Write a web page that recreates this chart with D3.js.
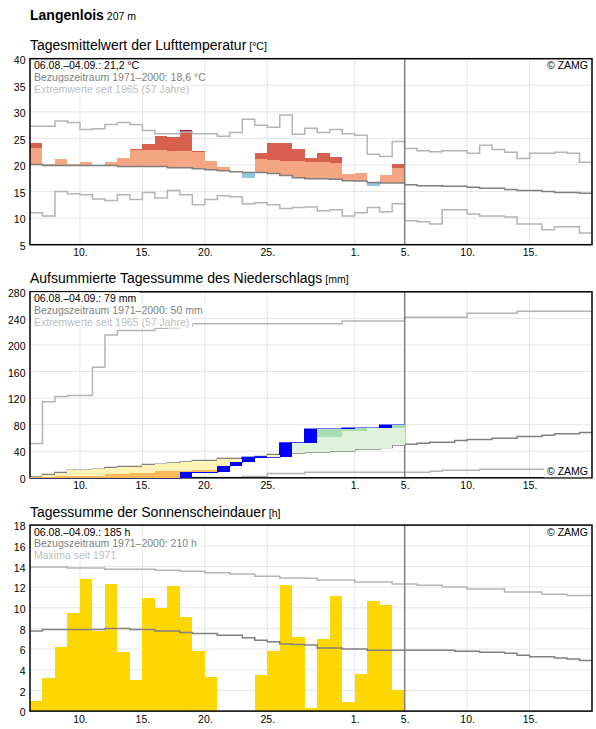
<!DOCTYPE html>
<html>
<head>
<meta charset="utf-8">
<script src="https://cdn.jsdelivr.net/npm/d3@7"></script>
<style>
  body { margin: 0; background: #fff; }
  svg { font-family: "Liberation Sans", Arial, sans-serif; }
</style>
</head>
<body>
<div id="chart"></div>
<script>
// ---- data (06.08. - 19.09.2022, one value per day) ----
const xTickDates = ['2022-08-10', '2022-08-15', '2022-08-20', '2022-08-25', '2022-09-01', '2022-09-05', '2022-09-10', '2022-09-15'];

// temperature [°C]
const tempTicks = [5, 10, 15, 20, 25, 30, 35, 40];
const tempMean = [24.2, 20.1, 21.2, 20.1, 20.65, 20.0, 20.5, 21.4, 23.1, 23.9, 25.4, 25.2, 26.5, 22.6, 20.8,
  19.6, 18.6, 17.5, 22.2, 24.1, 24.1, 23.1, 21.3, 22.2, 21.5, 18.3, 18.4, 16.05, 18.05, 20.2];
const tempThr = [23.2, 23.1, 23.0, 23.0, 22.9, 22.9, 22.8, 22.8, 22.8, 22.8, 22.8, 22.6, 22.6, 22.4, 22.2,
  22.0, 21.8, 21.5, 21.2, 21.0, 20.8, 20.7, 20.6, 20.5, 20.3, 20.1, 19.9, 19.7, 19.5, 19.4];
const tempNorm = [20.1, 19.9, 19.9, 19.9, 19.9, 19.9, 19.9, 19.7, 19.7, 19.7, 19.7, 19.5, 19.5, 19.3, 19.1,
  18.9, 18.75, 18.6, 18.6, 18.4, 18.0, 17.6, 17.4, 17.4, 17.3, 17.05, 17.0, 16.7, 16.6, 16.6,
  16.3, 16.1, 16.1, 16.0, 16.0, 15.8, 15.6, 15.6, 15.4, 15.2, 15.2, 15.0, 14.8, 14.8, 14.7];
const tempMax = [27.3, 27.3, 28.3, 28.0, 26.7, 26.8, 27.6, 28.0, 27.6, 26.5, 25.9, 25.9, 26.2, 25.9, 25.9,
  25.4, 26.1, 28.6, 27.5, 27.1, 29.4, 25.8, 26.9, 26.1, 26.7, 25.9, 25.6, 22.0, 21.6, 24.4,
  23.1, 22.7, 22.5, 22.7, 22.7, 22.2, 23.7, 22.9, 22.4, 21.2, 22.2, 22.2, 22.4, 22.2, 20.5];
const tempMin = [11.0, 10.4, 15.0, 14.6, 14.4, 13.6, 13.3, 14.4, 13.5, 14.8, 13.8, 15.2, 14.4, 12.5, 13.5,
  14.2, 14.0, 12.7, 12.9, 12.5, 11.8, 12.0, 12.1, 11.4, 11.6, 10.4, 11.0, 12.0, 11.2, 12.7,
  9.5, 9.3, 8.9, 11.6, 11.6, 10.8, 10.4, 10.4, 10.2, 8.9, 8.9, 7.8, 8.4, 8.4, 7.2];
const tempLegend = ['06.08.–04.09.: 21,2 °C', 'Bezugszeitraum 1971–2000: 18,6 °C', 'Extremwerte seit 1965 (57 Jahre)'];

// precipitation [mm]
const rainTicks = [0, 40, 80, 120, 160, 200, 240, 280];
const rainDaily = [0, 0, 0, 0, 0, 0, 0, 0, 0, 0, 0, 0, 8.3, 0, 0,
  9.1, 6.5, 6.6, 0.9, 0, 21.1, 0, 20.7, 0, 0, 1.4, 0, 0, 4.6, 0];
const rainDry = [0.5, 1.0, 2.3, 2.3, 2.3, 2.3, 5.3, 5.3, 7.8, 7.8, 10.3, 10.3, 10.3, 12.3, 12.3,
  13.5, 14.0, 14.5, 15.0, 16.5, 17.0, 17.5, 18.0, 18.0, 19.0, 19.0, 20.5, 20.5, 21.5, 23.5];
const rainWet = [5, 10, 14, 19, 19, 21, 25, 27, 27, 31, 32, 35, 37, 40, 40,
  45, 45, 47, 50, 54, 58, 58, 60, 61.6, 61.6, 70.2, 70.2, 76, 76, 75.2];
const rainNorm = [1.2, 4.8, 7.8, 11.3, 11.3, 12.8, 15.4, 16.9, 16.9, 19.9, 20.4, 22.4, 23.9, 25.9, 25.9,
  29.0, 29.0, 30.5, 32.0, 35.0, 37.0, 37.5, 39.0, 39.0, 40.5, 40.5, 43.5, 43.5, 45.6, 49.5,
  50.6, 52.1, 53.6, 53.6, 56.1, 57.6, 57.6, 59.6, 59.6, 62.1, 62.1, 64.2, 66.2, 66.2, 68.2];
const rainMax = [51.6, 114.5, 122.5, 124, 124, 166.3, 215, 221.6, 221.6, 221.6, 225, 226, 228, 232, 232,
  232, 232, 232, 232, 232, 232, 232, 232, 232, 232, 236, 236, 236, 236, 236,
  241.8, 241.8, 241.8, 241.8, 241.8, 247.8, 247.8, 247.8, 247.8, 250.8, 250.8, 250.8, 250.8, 250.8, 250.8];
const rainMin = [0, 0, 0, 0, 0, 0, 0, 0, 0, 0, 0.4, 0.4, 0.4, 0.4, 0.4,
  0.4, 0.4, 2.0, 2.0, 6.3, 6.3, 6.3, 8.3, 8.3, 8.3, 8.3, 8.3, 8.3, 8.3, 8.3,
  8.3, 8.3, 9.8, 11.3, 11.3, 11.3, 12.8, 12.8, 12.8, 12.8, 12.8, 12.8, 12.8, 12.8, 12.8];
const rainLegend = ['06.08.–04.09.: 79 mm', 'Bezugszeitraum 1971–2000: 50 mm', 'Extremwerte seit 1965 (57 Jahre)'];

// sunshine [h]
const sunTicks = [0, 2, 4, 6, 8, 10, 12, 14, 16, 18];
const sunHours = [1.0, 3.2, 6.2, 9.5, 12.8, 7.75, 12.3, 5.7, 3.0, 10.9, 10.0, 12.1, 9.1, 5.8, 3.3,
  0, 0, 0, 3.5, 5.8, 12.2, 7.2, 0.3, 7.0, 11.1, 0.9, 3.55, 10.7, 10.3, 2.0];
const sunNorm = [7.75, 7.9, 7.9, 7.9, 7.9, 7.9, 8.0, 8.0, 7.9, 7.9, 7.75, 7.75, 7.6, 7.5, 7.5,
  7.35, 7.35, 7.1, 6.85, 6.7, 6.5, 6.45, 6.4, 6.1, 6.1, 6.0, 6.0, 5.9, 5.9, 5.9,
  5.9, 5.9, 5.9, 5.9, 5.8, 5.8, 5.7, 5.7, 5.6, 5.4, 5.25, 5.25, 5.15, 5.05, 4.9];
const sunMax = [13.95, 13.95, 13.95, 13.86, 13.86, 13.86, 13.73, 13.73, 13.73, 13.73, 13.63, 13.63, 13.53, 13.53, 13.4,
  13.4, 13.27, 13.27, 13.04, 13.04, 12.88, 12.88, 12.85, 12.69, 12.69, 12.69, 12.49, 12.49, 12.49, 12.3,
  12.3, 12.17, 12.17, 12.0, 12.0, 11.81, 11.81, 11.81, 11.52, 11.52, 11.52, 11.32, 11.32, 11.19, 11.19];
const sunLegend = ['06.08.–04.09.: 185 h', 'Bezugszeitraum 1971–2000: 210 h', 'Maxima seit 1971'];

// ---- layout ----
const width = 596, height = 729;
const plotLeft = 30, plotRight = 592, plotH = 186;
const legendColors = ['#000', '#808080', '#bdbdbd'];

const start = new Date(Date.UTC(2022, 7, 6));
const end = new Date(Date.UTC(2022, 8, 20));
const today = new Date(Date.UTC(2022, 8, 5));
const day = i => d3.utcDay.offset(start, i);
const x = d3.scaleUtc().domain([start, end]).range([plotLeft, plotRight]);

const svg = d3.select('#chart').append('svg')
  .attr('width', width)
  .attr('height', height);

svg.append('text')
  .attr('x', 30).attr('y', 19.5)
  .style('font-size', '14px').style('font-weight', 'bold')
  .text('Langenlois')
  .append('tspan')
  .style('font-size', '10.5px').style('font-weight', 'normal')
  .text(' 207 m');

function makePanel(top, domain, ticks, title, unit) {
  const y = d3.scaleLinear().domain(domain).range([top + plotH, top]);
  const g = svg.append('g');

  g.append('text')
    .attr('x', 30).attr('y', top - 8.5)
    .style('font-size', '14px')
    .text(title)
    .append('tspan')
    .style('font-size', '10.5px')
    .text(' ' + unit);

  // grid
  const grid = g.append('g').attr('stroke', '#e6e6e6').attr('stroke-width', 1);
  grid.selectAll('.hg').data(ticks).join('line')
    .attr('x1', plotLeft).attr('x2', plotRight)
    .attr('y1', d => y(d)).attr('y2', d => y(d));
  grid.selectAll('.vg').data(xTickDates).join('line')
    .attr('x1', d => x(new Date(d))).attr('x2', d => x(new Date(d)))
    .attr('y1', top).attr('y2', top + plotH);

  // axes (labels only)
  const yAxis = g.append('g')
    .attr('transform', `translate(${plotLeft},0)`)
    .call(d3.axisLeft(y).tickValues(ticks).tickSize(0).tickPadding(4.5));
  yAxis.select('.domain').remove();
  yAxis.selectAll('text').attr('dy', '0.45em').style('font-size', '10.5px').attr('fill', '#000');

  const xAxis = g.append('g')
    .attr('transform', `translate(0,${top + plotH})`)
    .call(d3.axisBottom(x).tickValues(xTickDates.map(d => new Date(d)))
      .tickFormat(d => d.getUTCDate() + '.').tickSize(0).tickPadding(4));
  xAxis.select('.domain').remove();
  xAxis.selectAll('text').style('font-size', '10.5px').attr('fill', '#000');

  const marks = g.append('g');
  const lines = g.append('g');
  const labels = g.append('g');
  const frame = g.append('g');

  frame.append('line')
    .attr('x1', x(today)).attr('x2', x(today))
    .attr('y1', top).attr('y2', top + plotH)
    .attr('stroke', '#808080').attr('stroke-width', 1.5);
  frame.append('rect')
    .attr('x', plotLeft).attr('y', top)
    .attr('width', plotRight - plotLeft).attr('height', plotH)
    .attr('fill', 'none').attr('stroke', '#000').attr('stroke-width', 1.5);

  return { y, marks, lines, labels, top };
}

function stepLine(p, values, color, w) {
  const pts = values.map((v, i) => [day(i), v]);
  pts.push([day(values.length), values[values.length - 1]]);
  p.lines.append('path').datum(pts)
    .attr('d', d3.line().x(d => x(d[0])).y(d => p.y(d[1])).curve(d3.curveStepAfter))
    .attr('fill', 'none')
    .attr('stroke', color)
    .attr('stroke-width', w);
}

function drawSegments(p, segs) {
  p.marks.append('g').selectAll('rect').data(segs).join('rect')
    .attr('x', d => x(day(d.i)))
    .attr('width', d => x(day(d.i + 1)) - x(day(d.i)))
    .attr('y', d => p.y(d.hi))
    .attr('height', d => Math.max(0, p.y(d.lo) - p.y(d.hi)))
    .attr('fill', d => d.color)
    .attr('shape-rendering', 'crispEdges');
}

function boxedText(p, str, xPos, yPos, color, anchor) {
  const box = p.labels.append('rect').attr('fill', '#fff');
  const t = p.labels.append('text')
    .attr('x', xPos).attr('y', yPos)
    .attr('text-anchor', anchor)
    .style('font-size', '10.5px')
    .attr('fill', color)
    .text(str);
  const bb = t.node().getBBox();
  box.attr('x', bb.x - 3).attr('y', bb.y).attr('width', bb.width + 6).attr('height', bb.height);
}

function legend(p, texts) {
  texts.forEach((s, k) => boxedText(p, s, 34, p.top + 10.5 + k * 11.7, legendColors[k], 'start'));
}

// ---- panel 1: temperature ----
const p1 = makePanel(58.7, [5, 40], tempTicks, 'Tagesmittelwert der Lufttemperatur', '[°C]');
const tempSegs = [];
tempMean.forEach((v, i) => {
  const n = tempNorm[i], t = tempThr[i], rec = tempMax[i];
  if (v >= n) {
    tempSegs.push({ i, lo: n, hi: Math.min(v, t), color: '#f4a582' });
    if (v > t) tempSegs.push({ i, lo: t, hi: Math.min(v, rec), color: '#d6604d' });
    if (v > rec) tempSegs.push({ i, lo: rec, hi: v, color: '#b2182b' });
  } else {
    tempSegs.push({ i, lo: v, hi: n, color: '#92c5de' });
  }
});
drawSegments(p1, tempSegs);
stepLine(p1, tempMax, '#b4b4b4', 1.5);
stepLine(p1, tempMin, '#b4b4b4', 1.5);
stepLine(p1, tempNorm, '#808080', 1.5);
legend(p1, tempLegend);
boxedText(p1, '© ZAMG', 588, p1.top + 10.5, '#000', 'end');

// ---- panel 2: precipitation ----
const p2 = makePanel(291.8, [0, 280], rainTicks, 'Aufsummierte Tagessumme des Niederschlags', '[mm]');
const rainCum = Array.from(d3.cumsum(rainDaily));
const rainSegs = [];
rainCum.forEach((c, i) => {
  const n = rainNorm[i], dry = rainDry[i], wet = rainWet[i];
  if (c < n) {
    if (c < dry) rainSegs.push({ i, lo: c, hi: Math.min(dry, n), color: '#fdb95a' });
    if (Math.max(c, dry) < n) rainSegs.push({ i, lo: Math.max(c, dry), hi: n, color: '#fff3b6' });
  } else {
    rainSegs.push({ i, lo: n, hi: Math.min(c, wet), color: '#dff2dc' });
    if (c > wet) rainSegs.push({ i, lo: wet, hi: c, color: '#a8dcb4' });
  }
});
drawSegments(p2, rainSegs);
stepLine(p2, rainMax, '#b4b4b4', 1.5);
stepLine(p2, rainMin, '#b4b4b4', 1.5);
stepLine(p2, rainNorm, '#808080', 1.5);
const rainBlue = [];
rainDaily.forEach((r, i) => {
  if (r > 0) rainBlue.push({ i, lo: rainCum[i] - r, hi: rainCum[i], color: '#0000ff' });
});
drawSegments(p2, rainBlue);
p2.marks.raise();
p2.labels.raise();
stepLine(p2, rainCum, '#0000ff', 1.5);
legend(p2, rainLegend);
boxedText(p2, '© ZAMG', 588, p2.top + plotH - 2.5, '#000', 'end');

// ---- panel 3: sunshine ----
const p3 = makePanel(525.1, [0, 18], sunTicks, 'Tagessumme der Sonnenscheindauer', '[h]');
drawSegments(p3, sunHours.map((v, i) => ({ i, lo: 0, hi: v, color: '#ffd700' })));
stepLine(p3, sunMax, '#b4b4b4', 1.5);
stepLine(p3, sunNorm, '#808080', 1.5);
legend(p3, sunLegend);
boxedText(p3, '© ZAMG', 588, p3.top + 10.5, '#000', 'end');
</script>
</body>
</html>
